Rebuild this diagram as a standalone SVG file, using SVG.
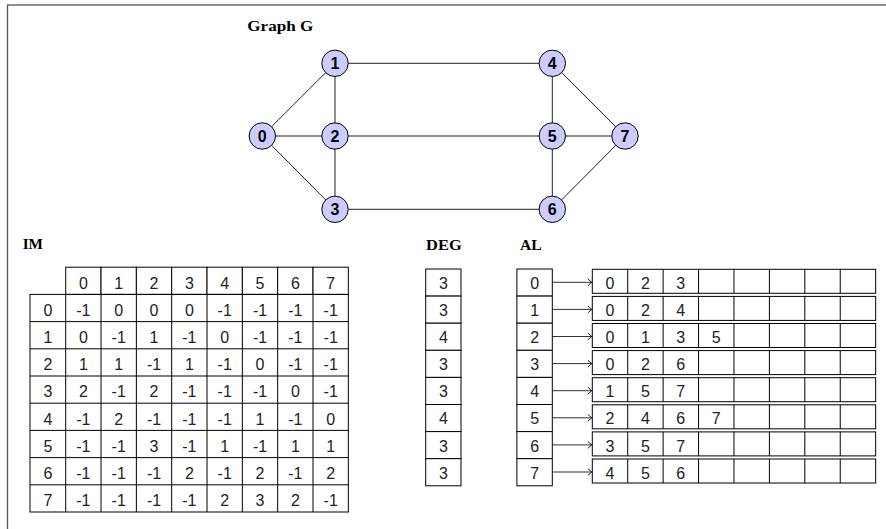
<svg xmlns="http://www.w3.org/2000/svg" width="886" height="529" viewBox="0 0 886 529">
<style>
.title{font-family:"Liberation Serif","DejaVu Serif",serif;font-weight:bold;font-size:14px;fill:#000}
.cell{fill:#fff;stroke:#000;stroke-width:1}
.t{font-family:"Liberation Sans",Arial,sans-serif;font-size:16px;fill:#222;text-anchor:middle}
.edge{stroke:#222;stroke-width:1;fill:none}
.node circle{fill:#ccccff;stroke:#000;stroke-width:1}
.node text{font-family:"Liberation Sans",Arial,sans-serif;font-weight:bold;font-size:16px;fill:#000;text-anchor:middle}
.arr{stroke:#333;stroke-width:1;fill:none}
</style>
<defs>
<marker id="to" viewBox="-5 -5 6 10" refX="0" refY="0" markerWidth="6" markerHeight="10" markerUnits="userSpaceOnUse" orient="auto">
<path d="M-4,-3.5 Q-1.2,-0.9 0,0 Q-1.2,0.9 -4,3.5" fill="none" stroke="#000" stroke-width="0.9"/>
</marker>
</defs>
<rect x="7.5" y="5" width="900" height="600" fill="#fff" stroke="#555" stroke-width="1.3"/>

<text class="title" x="247.3" y="30.7" textLength="66" lengthAdjust="spacingAndGlyphs">Graph G</text>
<text class="title" x="22.7" y="249.3" textLength="20.3" lengthAdjust="spacingAndGlyphs">IM</text>
<text class="title" x="426" y="250" textLength="35.7" lengthAdjust="spacingAndGlyphs">DEG</text>
<text class="title" x="520" y="250" textLength="21.7" lengthAdjust="spacingAndGlyphs">AL</text>

<g id="connectors">
<line class="edge" x1="262.3" y1="136" x2="335" y2="63.3"/>
<line class="edge" x1="262.3" y1="136" x2="335" y2="136"/>
<line class="edge" x1="262.3" y1="136" x2="335" y2="209.3"/>
<line class="edge" x1="335" y1="63.3" x2="335" y2="136"/>
<line class="edge" x1="335" y1="136" x2="335" y2="209.3"/>
<line class="edge" x1="335" y1="63.3" x2="552.3" y2="63.3"/>
<line class="edge" x1="335" y1="136" x2="552.3" y2="136"/>
<line class="edge" x1="335" y1="209.3" x2="552.3" y2="209.3"/>
<line class="edge" x1="552.3" y1="63.3" x2="552.3" y2="136"/>
<line class="edge" x1="552.3" y1="136" x2="552.3" y2="209.3"/>
<line class="edge" x1="552.3" y1="63.3" x2="625" y2="136"/>
<line class="edge" x1="552.3" y1="136" x2="625" y2="136"/>
<line class="edge" x1="552.3" y1="209.3" x2="625" y2="136"/>
<line class="arr" x1="552.3" y1="282.3" x2="591.8" y2="282.3" marker-end="url(#to)"/>
<line class="arr" x1="552.3" y1="309.4" x2="591.8" y2="309.4" marker-end="url(#to)"/>
<line class="arr" x1="552.3" y1="336.5" x2="591.8" y2="336.5" marker-end="url(#to)"/>
<line class="arr" x1="552.3" y1="363.6" x2="591.8" y2="363.6" marker-end="url(#to)"/>
<line class="arr" x1="552.3" y1="390.7" x2="591.8" y2="390.7" marker-end="url(#to)"/>
<line class="arr" x1="552.3" y1="417.8" x2="591.8" y2="417.8" marker-end="url(#to)"/>
<line class="arr" x1="552.3" y1="444.9" x2="591.8" y2="444.9" marker-end="url(#to)"/>
<line class="arr" x1="552.3" y1="472.0" x2="591.8" y2="472.0" marker-end="url(#to)"/>
</g>

<g id="node0" class="node"><circle cx="262.3" cy="136" r="13.2"/><text x="262.3" y="141.8">0</text></g>
<g id="node1" class="node"><circle cx="335" cy="63.3" r="13.2"/><text x="335" y="69.1">1</text></g>
<g id="node2" class="node"><circle cx="335" cy="136" r="13.2"/><text x="335" y="141.8">2</text></g>
<g id="node3" class="node"><circle cx="335" cy="209.3" r="13.2"/><text x="335" y="215.1">3</text></g>
<g id="node4" class="node"><circle cx="552.3" cy="63.3" r="13.2"/><text x="552.3" y="69.1">4</text></g>
<g id="node5" class="node"><circle cx="552.3" cy="136" r="13.2"/><text x="552.3" y="141.8">5</text></g>
<g id="node6" class="node"><circle cx="552.3" cy="209.3" r="13.2"/><text x="552.3" y="215.1">6</text></g>
<g id="node7" class="node"><circle cx="625" cy="136" r="13.2"/><text x="625" y="141.8">7</text></g>

<g id="IM">
<g id="IM-header">
<rect class="cell" x="65.7" y="267.2" width="35.33" height="27.2"/><rect class="cell" x="101.03" y="267.2" width="35.33" height="27.2"/><rect class="cell" x="136.36" y="267.2" width="35.33" height="27.2"/><rect class="cell" x="171.69" y="267.2" width="35.33" height="27.2"/><rect class="cell" x="207.02" y="267.2" width="35.33" height="27.2"/><rect class="cell" x="242.35" y="267.2" width="35.33" height="27.2"/><rect class="cell" x="277.68" y="267.2" width="35.33" height="27.2"/><rect class="cell" x="313.01" y="267.2" width="35.33" height="27.2"/>
<text class="t" y="288.6"><tspan x="83.4">0</tspan><tspan x="118.7">1</tspan><tspan x="154.0">2</tspan><tspan x="189.4">3</tspan><tspan x="224.7">4</tspan><tspan x="260.0">5</tspan><tspan x="295.4">6</tspan><tspan x="330.7">7</tspan></text>
</g>
<g id="IM-grid" fill="none" stroke="#000" stroke-width="1">
<rect x="30" y="294.4" width="318.34" height="217.6"/>
<path d="M30,321.6H348.34M30,348.8H348.34M30,376H348.34M30,403.2H348.34M30,430.4H348.34M30,457.6H348.34M30,484.8H348.34"/>
<path d="M65.7,294.4V512M101.03,294.4V512M136.36,294.4V512M171.69,294.4V512M207.02,294.4V512M242.35,294.4V512M277.68,294.4V512M313.01,294.4V512"/>
</g>
<g id="IM-values">
<text class="t" y="315.8"><tspan x="47.9">0</tspan><tspan x="83.4">-1</tspan><tspan x="118.7">0</tspan><tspan x="154.0">0</tspan><tspan x="189.4">0</tspan><tspan x="224.7">-1</tspan><tspan x="260.0">-1</tspan><tspan x="295.4">-1</tspan><tspan x="330.7">-1</tspan></text>
<text class="t" y="343.0"><tspan x="47.9">1</tspan><tspan x="83.4">0</tspan><tspan x="118.7">-1</tspan><tspan x="154.0">1</tspan><tspan x="189.4">-1</tspan><tspan x="224.7">0</tspan><tspan x="260.0">-1</tspan><tspan x="295.4">-1</tspan><tspan x="330.7">-1</tspan></text>
<text class="t" y="370.2"><tspan x="47.9">2</tspan><tspan x="83.4">1</tspan><tspan x="118.7">1</tspan><tspan x="154.0">-1</tspan><tspan x="189.4">1</tspan><tspan x="224.7">-1</tspan><tspan x="260.0">0</tspan><tspan x="295.4">-1</tspan><tspan x="330.7">-1</tspan></text>
<text class="t" y="397.4"><tspan x="47.9">3</tspan><tspan x="83.4">2</tspan><tspan x="118.7">-1</tspan><tspan x="154.0">2</tspan><tspan x="189.4">-1</tspan><tspan x="224.7">-1</tspan><tspan x="260.0">-1</tspan><tspan x="295.4">0</tspan><tspan x="330.7">-1</tspan></text>
<text class="t" y="424.6"><tspan x="47.9">4</tspan><tspan x="83.4">-1</tspan><tspan x="118.7">2</tspan><tspan x="154.0">-1</tspan><tspan x="189.4">-1</tspan><tspan x="224.7">-1</tspan><tspan x="260.0">1</tspan><tspan x="295.4">-1</tspan><tspan x="330.7">0</tspan></text>
<text class="t" y="451.8"><tspan x="47.9">5</tspan><tspan x="83.4">-1</tspan><tspan x="118.7">-1</tspan><tspan x="154.0">3</tspan><tspan x="189.4">-1</tspan><tspan x="224.7">1</tspan><tspan x="260.0">-1</tspan><tspan x="295.4">1</tspan><tspan x="330.7">1</tspan></text>
<text class="t" y="479.0"><tspan x="47.9">6</tspan><tspan x="83.4">-1</tspan><tspan x="118.7">-1</tspan><tspan x="154.0">-1</tspan><tspan x="189.4">2</tspan><tspan x="224.7">-1</tspan><tspan x="260.0">2</tspan><tspan x="295.4">-1</tspan><tspan x="330.7">2</tspan></text>
<text class="t" y="506.2"><tspan x="47.9">7</tspan><tspan x="83.4">-1</tspan><tspan x="118.7">-1</tspan><tspan x="154.0">-1</tspan><tspan x="189.4">-1</tspan><tspan x="224.7">2</tspan><tspan x="260.0">3</tspan><tspan x="295.4">2</tspan><tspan x="330.7">-1</tspan></text>
</g>
</g>

<g id="DEG">
<rect class="cell" x="425.7" y="269" width="35.3" height="27.1"/>
<rect class="cell" x="425.7" y="296.1" width="35.3" height="27.1"/>
<rect class="cell" x="425.7" y="323.2" width="35.3" height="27.1"/>
<rect class="cell" x="425.7" y="350.3" width="35.3" height="27.1"/>
<rect class="cell" x="425.7" y="377.4" width="35.3" height="27.1"/>
<rect class="cell" x="425.7" y="404.5" width="35.3" height="27.1"/>
<rect class="cell" x="425.7" y="431.6" width="35.3" height="27.1"/>
<rect class="cell" x="425.7" y="458.7" width="35.3" height="27.1"/>
<text class="t" x="443.35" y="288.9">3</text>
<text class="t" x="443.35" y="316.0">3</text>
<text class="t" x="443.35" y="343.1">4</text>
<text class="t" x="443.35" y="370.2">3</text>
<text class="t" x="443.35" y="397.3">3</text>
<text class="t" x="443.35" y="424.4">4</text>
<text class="t" x="443.35" y="451.5">3</text>
<text class="t" x="443.35" y="478.6">3</text>
</g>

<g id="AL-index">
<rect class="cell" x="516.9" y="269" width="35.4" height="27.1"/>
<rect class="cell" x="516.9" y="296.1" width="35.4" height="27.1"/>
<rect class="cell" x="516.9" y="323.2" width="35.4" height="27.1"/>
<rect class="cell" x="516.9" y="350.3" width="35.4" height="27.1"/>
<rect class="cell" x="516.9" y="377.4" width="35.4" height="27.1"/>
<rect class="cell" x="516.9" y="404.5" width="35.4" height="27.1"/>
<rect class="cell" x="516.9" y="431.6" width="35.4" height="27.1"/>
<rect class="cell" x="516.9" y="458.7" width="35.4" height="27.1"/>
<text class="t" x="534.6" y="288.9">0</text>
<text class="t" x="534.6" y="316.0">1</text>
<text class="t" x="534.6" y="343.1">2</text>
<text class="t" x="534.6" y="370.2">3</text>
<text class="t" x="534.6" y="397.3">4</text>
<text class="t" x="534.6" y="424.4">5</text>
<text class="t" x="534.6" y="451.5">6</text>
<text class="t" x="534.6" y="478.6">7</text>
</g>

<g id="AL-lists" fill="none" stroke="#000" stroke-width="1">
<path d="M627.72,269.3v24M663.14,269.3v24M698.56,269.3v24M733.98,269.3v24M769.4,269.3v24M804.82,269.3v24M840.24,269.3v24"/>
<path d="M627.72,296.4v24M663.14,296.4v24M698.56,296.4v24M733.98,296.4v24M769.4,296.4v24M804.82,296.4v24M840.24,296.4v24"/>
<path d="M627.72,323.5v24M663.14,323.5v24M698.56,323.5v24M733.98,323.5v24M769.4,323.5v24M804.82,323.5v24M840.24,323.5v24"/>
<path d="M627.72,350.6v24M663.14,350.6v24M698.56,350.6v24M733.98,350.6v24M769.4,350.6v24M804.82,350.6v24M840.24,350.6v24"/>
<path d="M627.72,377.7v24M663.14,377.7v24M698.56,377.7v24M733.98,377.7v24M769.4,377.7v24M804.82,377.7v24M840.24,377.7v24"/>
<path d="M627.72,404.8v24M663.14,404.8v24M698.56,404.8v24M733.98,404.8v24M769.4,404.8v24M804.82,404.8v24M840.24,404.8v24"/>
<path d="M627.72,431.9v24M663.14,431.9v24M698.56,431.9v24M733.98,431.9v24M769.4,431.9v24M804.82,431.9v24M840.24,431.9v24"/>
<path d="M627.72,459v24M663.14,459v24M698.56,459v24M733.98,459v24M769.4,459v24M804.82,459v24M840.24,459v24"/>
<rect x="592.3" y="269.3" width="283.36" height="24"/>
<rect x="592.3" y="296.4" width="283.36" height="24"/>
<rect x="592.3" y="323.5" width="283.36" height="24"/>
<rect x="592.3" y="350.6" width="283.36" height="24"/>
<rect x="592.3" y="377.7" width="283.36" height="24"/>
<rect x="592.3" y="404.8" width="283.36" height="24"/>
<rect x="592.3" y="431.9" width="283.36" height="24"/>
<rect x="592.3" y="459" width="283.36" height="24"/>
</g>
<g id="AL-values">
<text class="t" y="288.9"><tspan x="610.0">0</tspan><tspan x="645.4">2</tspan><tspan x="680.8">3</tspan></text>
<text class="t" y="316.0"><tspan x="610.0">0</tspan><tspan x="645.4">2</tspan><tspan x="680.8">4</tspan></text>
<text class="t" y="343.1"><tspan x="610.0">0</tspan><tspan x="645.4">1</tspan><tspan x="680.8">3</tspan><tspan x="716.3">5</tspan></text>
<text class="t" y="370.2"><tspan x="610.0">0</tspan><tspan x="645.4">2</tspan><tspan x="680.8">6</tspan></text>
<text class="t" y="397.3"><tspan x="610.0">1</tspan><tspan x="645.4">5</tspan><tspan x="680.8">7</tspan></text>
<text class="t" y="424.4"><tspan x="610.0">2</tspan><tspan x="645.4">4</tspan><tspan x="680.8">6</tspan><tspan x="716.3">7</tspan></text>
<text class="t" y="451.5"><tspan x="610.0">3</tspan><tspan x="645.4">5</tspan><tspan x="680.8">7</tspan></text>
<text class="t" y="478.6"><tspan x="610.0">4</tspan><tspan x="645.4">5</tspan><tspan x="680.8">6</tspan></text>
</g>
</svg>
